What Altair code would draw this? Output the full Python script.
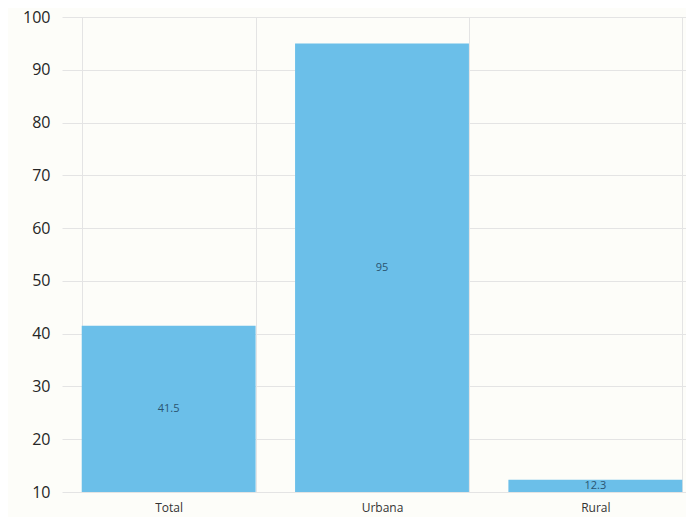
import altair as alt
import pandas as pd

categories = ["Total", "Urbana", "Rural"]
values = [41.5, 95, 12.3]
labels = ["41.5", "95", "12.3"]

df = pd.DataFrame({"cat": categories, "val": values, "lab": labels})
df["base"] = 10

x_scale = alt.Scale(paddingInner=0.185, paddingOuter=0.0925, range=[0, 640])
x = alt.X("cat:N", sort=categories, title=None, scale=x_scale,
          axis=alt.Axis(labelAngle=0, labelFontSize=12, labelColor="#333333",
                        labelFont="Open Sans", grid=True, tickBand="extent",
                        gridColor="#e4e4e4", domain=False, ticks=False,
                        labelPadding=10))
y_scale = alt.Scale(domain=[10, 100], nice=False, zero=False)

bars = alt.Chart(df).mark_bar(color="#6bbfe9").encode(
    x=x,
    y=alt.Y("val:Q", scale=y_scale, title=None,
            axis=alt.Axis(values=list(range(10, 101, 10)), labelFontSize=16,
                          labelColor="#262626", labelFont="Open Sans",
                          gridColor="#e4e4e4", domain=False, ticks=False,
                          labelPadding=12)),
    y2="base:Q",
)

text = alt.Chart(df).transform_calculate(mid="(datum.val + 10) / 2").mark_text(
    fontSize=11, color="#2a5470", font="Open Sans"
).encode(
    x=alt.X("cat:N", sort=categories, scale=x_scale),
    y=alt.Y("mid:Q", scale=y_scale),
    text="lab:N",
)

chart = (bars + text).properties(
    width=624, height=475,
    autosize=alt.AutoSizeParams(type="none"),
    padding={"left": 54, "top": 9, "right": 0, "bottom": 25},
    background="#fdfdf9",
).configure_view(stroke=None)

chart.save("out.html", embed_options={"renderer": "svg", "actions": False})
